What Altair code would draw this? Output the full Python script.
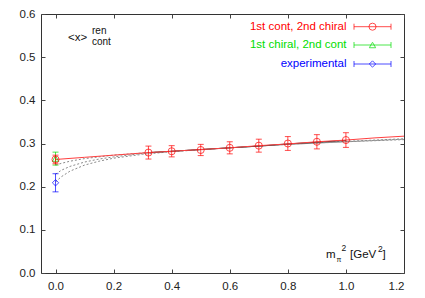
import altair as alt
import pandas as pd

# ---- data ----
# lattice points (1st cont, 2nd chiral)
mpi2 = [0.32, 0.40, 0.50, 0.60, 0.70, 0.80, 0.90, 1.00]
xren = [0.279, 0.282, 0.285, 0.290, 0.295, 0.300, 0.304, 0.308]
xerr = [0.015, 0.013, 0.013, 0.014, 0.015, 0.016, 0.0165, 0.017]

# chiral-limit values at m_pi^2 = 0
chiral_x = [0.0]
cont_chiral_y = [0.263]
cont_chiral_err = [0.010]
chiral_cont_y = [0.265]
chiral_cont_err = [0.015]
exp_y = [0.209]
exp_err = [0.021]

# red solid fit
red_fit_x = [0.0, 0.1, 0.2, 0.32, 0.4, 0.5, 0.6, 0.7, 0.8, 0.9, 1.0, 1.1, 1.2]
red_fit_y = [0.263, 0.268, 0.273, 0.279, 0.282, 0.286, 0.290, 0.295, 0.299, 0.304, 0.308, 0.313, 0.317]
# dark solid fit over data range
dark_fit_x = [0.32, 0.4, 0.5, 0.6, 0.7, 0.8, 0.9, 1.0]
dark_fit_y = [0.279, 0.282, 0.286, 0.290, 0.294, 0.299, 0.303, 0.307]
# grey dotted chiral fits
chiral_fit_x = [0.0, 0.02, 0.05, 0.1, 0.15, 0.2, 0.3, 0.4, 0.6, 0.8, 1.0, 1.2]
chiral_fit_a = [0.250, 0.254, 0.259, 0.265, 0.269, 0.273, 0.278, 0.282, 0.290, 0.298, 0.304, 0.309]
chiral_fit_b = [0.229, 0.238, 0.247, 0.257, 0.264, 0.269, 0.277, 0.282, 0.290, 0.298, 0.304, 0.310]
chiral_fit_c = [0.211, 0.223, 0.236, 0.250, 0.259, 0.266, 0.275, 0.281, 0.290, 0.298, 0.305, 0.311]

series_names = ["1st cont, 2nd chiral", "1st chiral, 2nd cont", "experimental"]
series_colors = ["#ff0000", "#00dd00", "#0000ff"]
series_shapes = ["circle", "triangle-up", "diamond"]

x_ticks = [0.0, 0.2, 0.4, 0.6, 0.8, 1.0, 1.2]
y_ticks = [0.0, 0.1, 0.2, 0.3, 0.4, 0.5, 0.6]

# ---- tables ----
lat = pd.DataFrame({"x": mpi2, "y": xren, "lo": [a - e for a, e in zip(xren, xerr)],
                    "hi": [a + e for a, e in zip(xren, xerr)]})
cc = pd.DataFrame({"x": chiral_x, "y": cont_chiral_y,
                   "lo": [cont_chiral_y[0] - cont_chiral_err[0]], "hi": [cont_chiral_y[0] + cont_chiral_err[0]]})
ch = pd.DataFrame({"x": chiral_x, "y": chiral_cont_y,
                   "lo": [chiral_cont_y[0] - chiral_cont_err[0]], "hi": [chiral_cont_y[0] + chiral_cont_err[0]]})
ex = pd.DataFrame({"x": chiral_x, "y": exp_y,
                   "lo": [exp_y[0] - exp_err[0]], "hi": [exp_y[0] + exp_err[0]]})
red_fit = pd.DataFrame({"x": red_fit_x, "y": red_fit_y})
dark_fit = pd.DataFrame({"x": dark_fit_x, "y": dark_fit_y})
grey = pd.concat([
    pd.DataFrame({"x": chiral_fit_x, "y": chiral_fit_a, "c": "a"}),
    pd.DataFrame({"x": chiral_fit_x, "y": chiral_fit_b, "c": "b"}),
    pd.DataFrame({"x": chiral_fit_x, "y": chiral_fit_c, "c": "c"}),
])

FONT = "Liberation Sans"
xscale = alt.Scale(domain=[-0.05, 1.2], nice=False, zero=False)
yscale = alt.Scale(domain=[0, 0.6], nice=False, zero=False)


def X(f="x", axis=None):
    return alt.X(f, type="quantitative", scale=xscale, axis=axis, title=None)


def Y(f="y", axis=None):
    return alt.Y(f, type="quantitative", scale=yscale, axis=axis, title=None)


TICK = "#444444"
ax_common = dict(grid=False, domain=False, tickSize=4, tickColor=TICK, tickWidth=1,
                 labelFont=FONT, labelFontSize=11.5, labelColor="#222222", title=None)

axes_lb = alt.Chart(lat).mark_point(opacity=0).encode(
    x=X("x", alt.Axis(orient="bottom", values=x_ticks, format=".1f", offset=-4,
                      labelPadding=7, **ax_common)),
    y=Y("y", alt.Axis(orient="left", values=y_ticks, format=".1f", offset=-4,
                      labelPadding=6, **ax_common)),
)
axes_rt = alt.Chart(lat).mark_point(opacity=0).encode(
    x=X("x", alt.Axis(orient="top", values=x_ticks, offset=-4, labels=False, **ax_common)),
    y=Y("y", alt.Axis(orient="right", values=y_ticks, offset=-4, labels=False, **ax_common)),
)

grey_lines = alt.Chart(grey).mark_line(color="#8a8a8a", strokeWidth=1, strokeDash=[2, 2]).encode(
    x=X(), y=Y(), detail="c:N")
dark_line = alt.Chart(dark_fit).mark_line(color="#333333", strokeWidth=1).encode(x=X(), y=Y())
red_line = alt.Chart(red_fit).mark_line(color="#ff4040", strokeWidth=1).encode(x=X(), y=Y())


def errpts(df, color, shape, size):
    op = 0.7
    bar = alt.Chart(df).mark_rule(color=color, strokeWidth=1, opacity=op).encode(
        x=X(), y=Y("lo"), y2="hi")
    cap_lo = alt.Chart(df).mark_tick(color=color, orient="horizontal", size=6, thickness=1,
                                     opacity=op).encode(x=X(), y=Y("lo"))
    cap_hi = alt.Chart(df).mark_tick(color=color, orient="horizontal", size=6, thickness=1,
                                     opacity=op).encode(x=X(), y=Y("hi"))
    pts = alt.Chart(df).mark_point(shape=shape, color=color, filled=False, size=size,
                                   strokeWidth=1, opacity=op).encode(x=X(), y=Y())
    return [bar, cap_lo, cap_hi, pts]


layers = [axes_lb, axes_rt, grey_lines, dark_line, red_line]
layers += errpts(lat, series_colors[0], "circle", 50)
layers += errpts(ex, series_colors[2], "diamond", 40)
layers += errpts(ch, series_colors[1], "triangle-up", 40)
layers += errpts(cc, series_colors[0], "circle", 50)

# ---- key (drawn inside the plot, top right) ----
one = pd.DataFrame({"k": [0]})
row_y = [12.7, 31.0, 50.0]
for name, col, shp, ry in zip(series_names, series_colors, series_shapes, row_y):
    t = pd.DataFrame({"t": [name]})
    layers.append(alt.Chart(t).mark_text(align="right", baseline="middle", font=FONT,
                                         fontSize=11.5, color=col).encode(
        text="t:N", x=alt.value(305.5), y=alt.value(ry)))
    layers.append(alt.Chart(one).mark_rule(color=col, strokeWidth=1, opacity=0.7).encode(
        x=alt.value(313), x2=alt.value(350), y=alt.value(ry)))
    for cx in (313, 350):
        layers.append(alt.Chart(one).mark_rule(color=col, strokeWidth=1, opacity=0.7).encode(
            x=alt.value(cx), y=alt.value(ry - 3), y2=alt.value(ry + 3)))
    layers.append(alt.Chart(one).mark_point(shape=shp, color=col, filled=False,
                                            size=50 if shp == "circle" else 40,
                                            strokeWidth=1, opacity=0.7).encode(
        x=alt.value(331.5), y=alt.value(ry)))

# ---- annotation texts ----
def txt(s, x, y, size=11.5, align="left", baseline="alphabetic"):
    return alt.Chart(pd.DataFrame({"t": [s]})).mark_text(
        align=align, baseline=baseline, font=FONT, fontSize=size, color="#111111").encode(
        text="t:N", x=alt.value(x), y=alt.value(y))


layers += [
    txt("<x>", 27, 27),
    txt("ren", 51, 20, size=10),
    txt("cont", 51, 31, size=10),
    txt("m", 285, 243.5),
    txt("π", 295.5, 248, size=7),
    txt("2", 300.5, 236.5, size=8.5),
    txt("[GeV", 309, 243.5),
    txt("2", 337, 237.5, size=8.5),
    txt("]", 341.5, 243.5),
]

chart = alt.layer(*layers).resolve_axis(x="independent", y="independent").properties(
    width=363, height=259,
    padding={"left": 33, "top": 6, "right": 8, "bottom": 22},
    autosize=alt.AutoSizeParams(type="none"),
).configure_view(stroke="#333333", strokeWidth=1)

chart.save("out.html", embed_options={"renderer": "svg", "actions": False})
